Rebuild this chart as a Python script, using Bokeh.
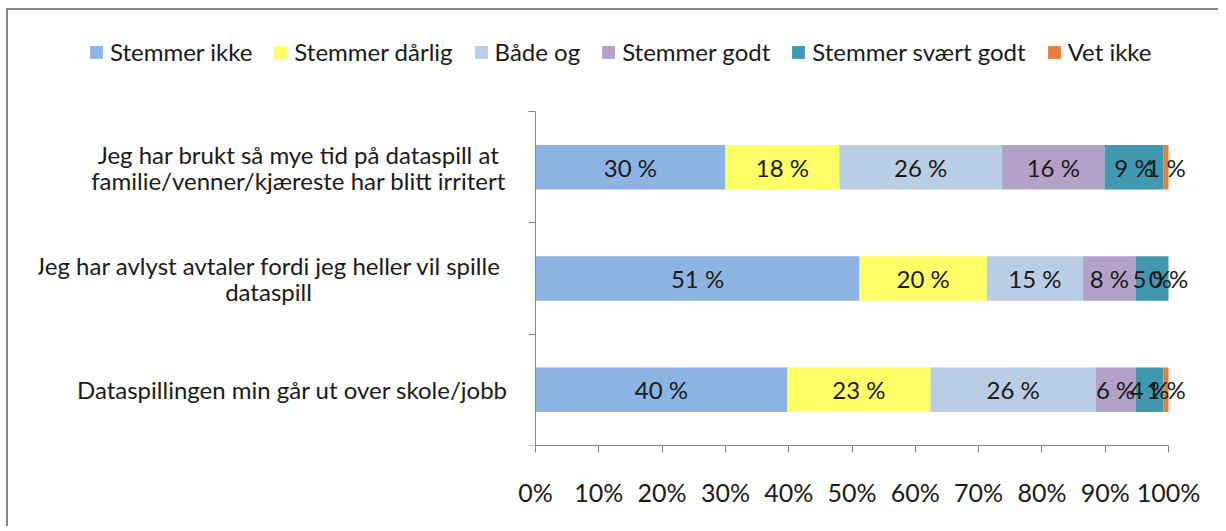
from bokeh.plotting import figure
from bokeh.models import (ColumnDataSource, Range1d, FixedTicker, LinearAxis,
                          LabelSet, Label, Legend)
from bokeh.core.properties import value
from bokeh.embed import file_html
from bokeh.resources import INLINE

# ---------------- data ----------------
statements = [
    "Jeg har brukt så mye tid på dataspill at\nfamilie/venner/kjæreste har blitt irritert",
    "Jeg har avlyst avtaler fordi jeg heller vil spille\ndataspill",
    "Dataspillingen min går ut over skole/jobb",
]
answers = ["Stemmer ikke", "Stemmer dårlig", "Både og", "Stemmer godt",
           "Stemmer svært godt", "Vet ikke"]
stemmer_ikke = [30.0, 51.2, 39.8]
stemmer_darlig = [18.0, 20.1, 22.6]
bade_og = [25.7, 15.2, 26.1]
stemmer_godt = [16.2, 8.3, 6.3]
stemmer_svaert_godt = [9.3, 5.2, 4.4]
vet_ikke = [0.8, 0.0, 0.8]
x_ticks = [0, 10, 20, 30, 40, 50, 60, 70, 80, 90, 100]
x_tick_labels = ["0%", "10%", "20%", "30%", "40%", "50%", "60%", "70%",
                 "80%", "90%", "100%"]

series = [stemmer_ikke, stemmer_darlig, bade_og, stemmer_godt,
          stemmer_svaert_godt, vet_ikke]
colors = ["#8EB4E3", "#FFFF66", "#B9CDE5", "#B3A2C7", "#4198B0", "#E4803A"]
keys = ["s0", "s1", "s2", "s3", "s4", "s5"]

# ---------------- layout constants (pixels) ----------------
W, H = 1212, 518
OX, OY = 8, 10                    # page position of the canvas
FL, FR, FT, FB = 30, W - 10, 10, 435   # frame edges, canvas pixels
AX0, AX100 = 535 - OX, 1168 - OX  # where 0 % and 100 % sit (canvas x)
AYT = 111 - OY                     # top of the category area (canvas y)
FONT = "Lato"
TXT = "#1a1a1a"
AX = "#868686"

n = len(statements)
ypos = [n - 0.5 - i for i in range(n)]  # first statement on top

ppx = (AX100 - AX0) / 100.0       # px per x unit
ppy = (FB - AYT) / n               # px per y unit
x_start = (FL - AX0) / ppx
x_end = 100 + (FR - AX100) / ppx
y_end = (FB - FT) / ppy

src = ColumnDataSource(dict(y=ypos, **{k: v for k, v in zip(keys, series)}))

p = figure(width=W, height=H, output_backend="svg", toolbar_location=None,
           x_range=Range1d(x_start, x_end), y_range=Range1d(0, y_end),
           x_axis_location=None, y_axis_location=None,
           min_border_left=FL, min_border_right=W - FR,
           min_border_top=FT, min_border_bottom=H - FB)
p.styles = {"border-left": "2px solid #868686", "border-top": "2px solid #868686",
            "margin-left": "6px", "margin-top": "8px"}
p.outline_line_color = None
p.grid.visible = False
p.background_fill_color = "white"
p.border_fill_color = "white"

rends = p.hbar_stack(keys, y="y", height=0.4, color=colors, line_color=None,
                     source=src)

# segment labels
lx, ly, lt = [], [], []
for i in range(n):
    left = 0.0
    for s in series:
        v = s[i]
        lx.append(left + v / 2)
        ly.append(ypos[i])
        lt.append(f"{round(v)} %")
        left += v
lsrc = ColumnDataSource(dict(x=lx, y=ly, t=lt))
p.add_layout(LabelSet(x="x", y="y", text="t", source=lsrc, text_align="center",
                      text_baseline="middle", text_font=value(FONT),
                      text_font_size="24px", text_color=TXT))

# x axis (0-100 %)
xa = LinearAxis(ticker=FixedTicker(ticks=x_ticks), bounds=(0, 100),
                major_label_overrides={t: l for t, l in zip(x_ticks, x_tick_labels)})
xa.axis_line_color = AX
xa.major_tick_line_color = AX
xa.major_tick_in = 0
xa.major_tick_out = 7
xa.minor_tick_line_color = None
xa.major_label_standoff = 24
xa.major_label_text_font = FONT
xa.major_label_text_font_size = "25px"
xa.major_label_text_color = TXT
p.add_layout(xa, "below")

# y axis at x = 0 with ticks at the category boundaries
ya = LinearAxis(ticker=FixedTicker(ticks=list(range(n + 1))), bounds=(0, n),
                fixed_location=0,
                major_label_overrides={t: "" for t in range(n + 1)})
ya.axis_line_color = AX
ya.major_tick_line_color = AX
ya.major_tick_in = 0
ya.major_tick_out = 7
ya.minor_tick_line_color = None
ya.major_label_text_font_size = "0px"
ya.major_label_standoff = 0
p.add_layout(ya, "left")

# category labels (lines centred, block placed as in the original)
centers_page = [298, 268, 292]
line_gap = 26.0 / ppy
for i, text in enumerate(statements):
    lines = text.split("\n")
    cx = (centers_page[i] - OX - AX0) / ppx
    m = len(lines)
    for j, ln in enumerate(lines):
        yy = ypos[i] + ((m - 1) / 2 - j) * line_gap
        p.add_layout(Label(x=cx, y=yy, text=ln, text_align="center",
                           text_baseline="middle", text_font=FONT,
                           text_font_size="24px", text_color=TXT))

# legend
leg_left_page, leg_bottom_page = 88, 66
legend = Legend(items=[(a, [r]) for a, r in zip(answers, rends)],
                orientation="horizontal",
                location=(leg_left_page - OX - FL, FB - (leg_bottom_page - OY)),
                glyph_width=16, glyph_height=16, label_standoff=6,
                spacing=20, padding=0, margin=0,
                label_text_font=FONT, label_text_font_size="24px",
                label_text_color=TXT, border_line_color=None,
                background_fill_alpha=0)
p.add_layout(legend, "center")

open("out.html", "w").write(file_html(p, INLINE))
